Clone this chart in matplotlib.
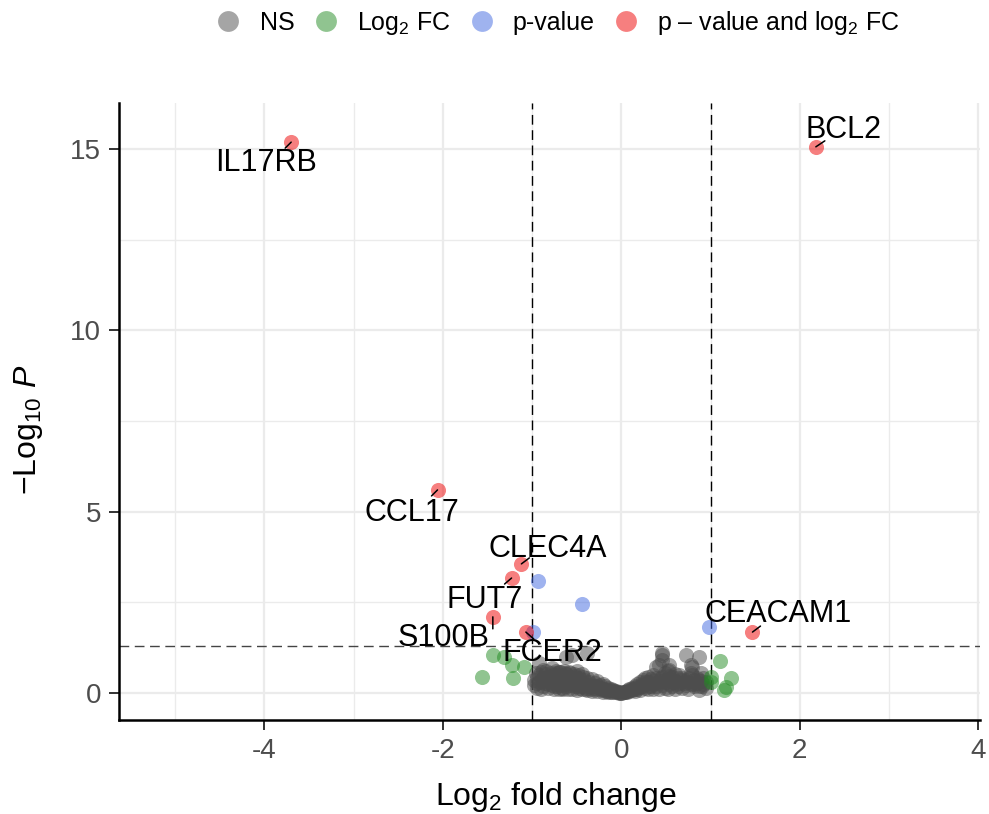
import matplotlib
matplotlib.use("Agg")
import matplotlib.pyplot as plt
from matplotlib.lines import Line2D

plt.rcParams["font.family"] = ["Liberation Sans", "DejaVu Sans"]
plt.rcParams["mathtext.fontset"] = "custom"
plt.rcParams["mathtext.rm"] = "Liberation Sans"
plt.rcParams["mathtext.it"] = "Liberation Sans:italic"

# not significant genes (log2 fold change, -log10 p)
ns_lfc = [-0.98, -0.98, -0.95, -0.95, -0.95, -0.92, -0.92, -0.92, -0.88, -0.88, -0.88,
          -0.85, -0.85, -0.82, -0.82, -0.82, -0.78, -0.78, -0.78, -0.75, -0.75, -0.75,
          -0.72, -0.72, -0.70, -0.70, -0.70, -0.67, -0.67, -0.67, -0.64, -0.64, -0.64,
          -0.62, -0.62, -0.62, -0.60, -0.60, -0.60, -0.57, -0.57, -0.57, -0.55, -0.55, -0.55,
          -0.52, -0.52, -0.52, -0.50, -0.50, -0.50, -0.47, -0.47, -0.47, -0.44, -0.44, -0.44,
          -0.42, -0.42, -0.38, -0.38, -0.38, -0.38, -0.36, -0.36, -0.33, -0.33, -0.33,
          -0.30, -0.30, -0.27, -0.27, -0.27, -0.24, -0.24, -0.21, -0.21, -0.21,
          -0.18, -0.18, -0.15, -0.15, -0.15, -0.12, -0.12, -0.09, -0.09, -0.06, -0.06,
          -0.03, -0.03, 0.00, 0.00,
          0.03, 0.03, 0.06, 0.06, 0.09, 0.09, 0.12, 0.12, 0.15, 0.15, 0.15, 0.18, 0.18,
          0.21, 0.21, 0.21, 0.24, 0.24, 0.27, 0.27, 0.27, 0.30, 0.30, 0.30, 0.33, 0.33,
          0.36, 0.36, 0.36, 0.39, 0.39, 0.39, 0.42, 0.42, 0.42, 0.46, 0.46, 0.46, 0.46, 0.46,
          0.49, 0.49, 0.49, 0.52, 0.52, 0.52, 0.54, 0.54, 0.54, 0.57, 0.57, 0.60, 0.60, 0.60,
          0.63, 0.63, 0.65, 0.65, 0.68, 0.68, 0.72, 0.72, 0.72, 0.75, 0.75, 0.78, 0.78, 0.78,
          0.79, 0.79, 0.82, 0.82, 0.85, 0.85, 0.87, 0.87, 0.87, 0.89, 0.89, 0.92, 0.92,
          0.95, 0.95,
          -0.90, -0.86, -0.80, -0.76, -0.73, -0.68, -0.65, -0.58, -0.54, -0.49, -0.45, -0.40,
          -0.35, -0.31, -0.26, -0.22, -0.17, -0.13, -0.08, -0.04, 0.04, 0.08, 0.13, 0.17,
          0.22, 0.26, 0.31, 0.35, 0.40, 0.44, 0.48, 0.53, 0.58, 0.62, 0.67, 0.71, 0.76,
          0.81, 0.86, 0.90,
          -0.96, -0.90, -0.84, -0.79, -0.73, -0.69, -0.63, -0.59, -0.53, -0.48, -0.43]
ns_logp = [0.22, 0.35, 0.41, 0.27, 0.15, 0.83, 0.50, 0.30, 0.63, 0.20, 0.40,
           0.33, 0.52, 0.25, 0.45, 0.15, 0.69, 0.38, 0.22, 0.30, 0.50, 0.12,
           0.42, 0.20, 0.58, 0.28, 0.10, 0.35, 0.48, 0.15, 0.62, 0.25, 0.40,
           1.00, 0.18, 0.52, 0.32, 0.45, 0.10, 0.55, 0.22, 0.38, 1.05, 0.28, 0.12,
           0.47, 0.33, 0.18, 0.60, 0.25, 0.08, 0.40, 0.15, 0.30, 0.52, 0.20, 0.10,
           0.35, 0.25, 1.10, 0.42, 0.15, 0.08, 0.30, 0.20, 0.38, 0.12, 0.06,
           0.28, 0.18, 0.32, 0.10, 0.05, 0.22, 0.14, 0.26, 0.08, 0.04,
           0.18, 0.10, 0.14, 0.06, 0.03, 0.10, 0.04, 0.08, 0.03, 0.05, 0.02,
           0.03, 0.01, 0.00, 0.01,
           0.02, 0.04, 0.06, 0.03, 0.10, 0.05, 0.14, 0.07, 0.20, 0.10, 0.05, 0.25, 0.12,
           0.30, 0.16, 0.08, 0.35, 0.20, 0.40, 0.14, 0.25, 0.45, 0.30, 0.10, 0.38, 0.20,
           0.50, 0.26, 0.12, 0.72, 0.40, 0.18, 0.77, 0.33, 0.10, 1.10, 0.91, 1.05, 0.45, 0.22,
           0.55, 0.30, 0.15, 0.38, 0.60, 0.12, 0.63, 0.77, 0.25, 0.45, 0.20, 0.52, 0.32, 0.10,
           0.40, 0.18, 0.50, 0.28, 0.42, 0.15, 1.05, 0.35, 0.22, 0.30, 0.12, 0.77, 0.55, 0.25,
           0.72, 0.50, 0.35, 0.18, 0.28, 0.42, 1.00, 0.08, 0.20, 0.55, 0.32, 0.25, 0.40,
           0.30, 0.15,
           0.12, 0.28, 0.35, 0.18, 0.55, 0.22, 0.12, 0.30, 0.40, 0.20, 0.28, 0.12,
           0.22, 0.14, 0.20, 0.12, 0.06, 0.08, 0.05, 0.02, 0.02, 0.08, 0.10, 0.16,
           0.22, 0.30, 0.20, 0.32, 0.28, 0.42, 0.35, 0.48, 0.30, 0.25, 0.35, 0.28, 0.42,
           0.25, 0.35, 0.20,
           0.55, 0.58, 0.60, 0.56, 0.62, 0.57, 0.55, 0.58, 0.52, 0.50, 0.45]

# passes fold-change cutoff only
fc_lfc = [-1.44, -1.31, -1.23, -1.09, -1.56, -1.21, 1.11, 1.01, 1.23, 1.17, 1.15, 1.00]
fc_logp = [1.05, 1.00, 0.77, 0.72, 0.43, 0.40, 0.88, 0.45, 0.40, 0.17, 0.08, 0.31]

# passes p-value cutoff only
pv_lfc = [-0.93, -0.44, -0.99, 0.98]
pv_logp = [3.09, 2.45, 1.68, 1.82]

# passes both cutoffs
sig_genes = ["IL17RB", "BCL2", "CCL17", "CLEC4A", "FUT7", "S100B", "FCER2", "CEACAM1"]
sig_lfc = [-3.70, 2.18, -2.06, -1.12, -1.23, -1.44, -1.07, 1.47]
sig_logp = [15.19, 15.06, 5.60, 3.56, 3.17, 2.10, 1.68, 1.68]

# label text centre and connector end, in pixels relative to the point
label_offsets = [(-25, -21), (28, 17), (-26, -23), (26, 15), (-27, -22), (-49, -21), (27, -21), (26, 18)]
connector_ends = [(-6, -6), (9, 6), (-6, -6), (8, 6), (-7, -6), (0, -12), (8, -7), (8, 6)]

fc_cut = 1.0
p_cut = 1.30103

fig = plt.figure(figsize=(9.89, 8.14), dpi=100)
ax = fig.add_axes([0.1203, 0.1155, 0.8706, 0.758])

ax.set_xlim(-5.63, 4.02)
ax.set_ylim(-0.744, 16.27)

ax.set_xticks([-4, -2, 0, 2, 4])
ax.set_xticks([-5, -3, -1, 1, 3], minor=True)
ax.set_yticks([0, 5, 10, 15])
ax.set_yticks([2.5, 7.5, 12.5], minor=True)
ax.grid(which="major", color="#ebebeb", lw=1.6, zorder=0)
ax.grid(which="minor", color="#ebebeb", lw=1.0, zorder=0)
ax.set_axisbelow(True)
ax.tick_params(which="minor", length=0)
ax.tick_params(which="major", length=7, width=1.4, color="#333333",
               labelsize=20, labelcolor="#4d4d4d", pad=6)
ax.set_xticklabels(["-4", "-2", "0", "2", "4"])

for side in ["top", "right"]:
    ax.spines[side].set_visible(False)
for side in ["left", "bottom"]:
    ax.spines[side].set_linewidth(1.8)
    ax.spines[side].set_color("black")

sz = 118
ax.scatter(ns_lfc, ns_logp, s=sz, color="#4d4d4d", alpha=0.5, lw=0, zorder=3)
ax.scatter(fc_lfc, fc_logp, s=sz, color="#228b22", alpha=0.5, lw=0, zorder=3)
ax.scatter(pv_lfc, pv_logp, s=sz, color="#4169e1", alpha=0.5, lw=0, zorder=3)
ax.scatter(sig_lfc, sig_logp, s=sz, color="#ee0000", alpha=0.5, lw=0, zorder=3)

# cutoff lines
for v in [-fc_cut, fc_cut]:
    ax.axvline(v, color="black", lw=1.0, ls=(0, (7, 4)), zorder=2)
ax.axhline(p_cut, color="#444444", lw=1.0, ls=(0, (7, 4)), zorder=2)

for gene, x, y, off, end in zip(sig_genes, sig_lfc, sig_logp, label_offsets, connector_ends):
    ax.annotate("", xy=(x, y), xytext=end, textcoords="offset pixels",
                arrowprops=dict(arrowstyle="-", color="black", lw=1.1,
                                shrinkA=0, shrinkB=0), zorder=5)
    ax.annotate(gene, xy=(x, y), xytext=off, textcoords="offset pixels",
                ha="center", va="center", fontsize=22, color="black", zorder=5)

ax.set_xlabel(r"Log$_{2}$ fold change", fontsize=23)
ax.set_ylabel("\u2212Log$_{10}$ $\\it{P}$", fontsize=23)
ax.xaxis.set_label_coords(0.508, -0.097)
ax.yaxis.set_label_coords(-0.086, 0.47)

handles = [Line2D([], [], marker="o", ls="", markersize=15, markeredgewidth=0,
                  color=c, alpha=0.5)
           for c in ["#4d4d4d", "#228b22", "#4169e1", "#ee0000"]]
labels = ["NS", r"Log$_{2}$ FC", "p-value", "p \u2013 value and log$_{2}$ FC"]
fig.legend(handles, labels, loc="center", bbox_to_anchor=(0.564, 0.972), ncol=4,
           frameon=False, fontsize=18, handletextpad=0.75, columnspacing=0.75,
           handlelength=1.0)

fig.savefig("out.png", dpi=100)
